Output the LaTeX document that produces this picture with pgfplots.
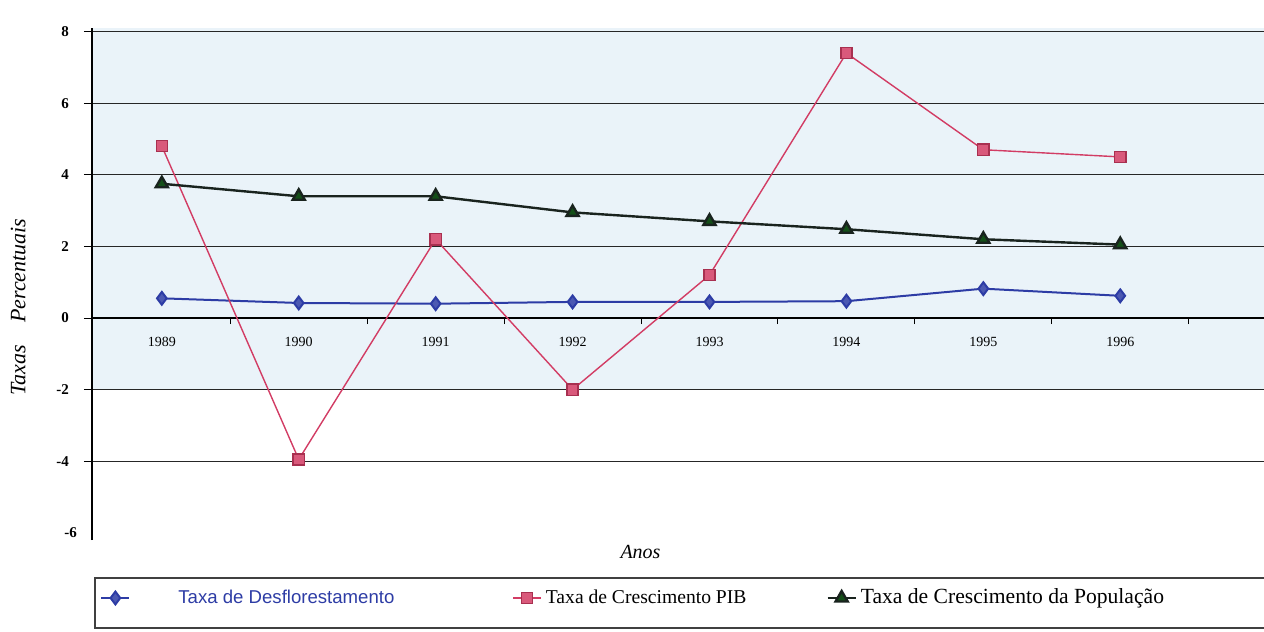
\documentclass[border=0pt]{standalone}
\usepackage{fontspec}
\setmainfont{Liberation Serif}
\newfontfamily\arial{Liberation Sans}
\usepackage{pgfplots}
\pgfplotsset{compat=1.18}
\definecolor{defblue}{RGB}{45,60,165}
\definecolor{pibred}{RGB}{210,60,100}
\definecolor{popblack}{RGB}{25,35,30}
\definecolor{bgblue}{RGB}{234,243,249}
\begin{document}
\begin{tikzpicture}
\useasboundingbox (-46pt,-46pt) rectangle (586pt,270pt);
% light blue backdrop of the upper plot area (y from -2 to the top)
\fill[bgblue] (0pt,75.2pt) rectangle (586pt,256pt);
\begin{axis}[
  scale only axis, width=586pt, height=256pt,
  xmin=-0.51, xmax=8.05, ymin=-6.2, ymax=8.1,
  axis x line*=middle, axis y line*=left,
  axis line style={black, line width=0.6pt},
  xtick={0,1,2,3,4,5,6,7},
  xticklabels={1989,1990,1991,1992,1993,1994,1995,1996},
  major x tick style={draw=none},
  minor xtick={0.5,1.5,2.5,3.5,4.5,5.5,6.5,7.5},
  minor x tick style={black, line width=0.5pt},
  minor tick length=3pt,
  ytick={-4,-2,0,2,4,6,8},
  yticklabels={-4,-2,0,2,4,6,8},
  extra y ticks={-6},
  extra y tick labels={-6},
  extra y tick style={grid=none, major tick length=0pt},
  major y tick style={black, line width=0.5pt},
  major tick length=4pt,
  tick align=outside,
  ymajorgrids,
  major grid style={black!85, line width=0.5pt},
  xticklabel style={font=\fontsize{7}{8}\selectfont, yshift=-2pt},
  yticklabel style={font=\bfseries\fontsize{7.5}{8}\selectfont, xshift=-4pt},
  xlabel={\itshape Anos},
  xlabel style={at={(axis description cs:0.468,0)}, anchor=center, yshift=-6pt, font=\fontsize{10}{11}\selectfont},
  ylabel={\itshape Taxas\quad Percentuais},
  ylabel style={at={(axis description cs:-0.063,0.455)}, anchor=center, font=\fontsize{11}{12}\selectfont},
  legend columns=3,
  legend style={draw=none, fill=none, at={(0,0)}, anchor=west, xshift=4pt, yshift=-29pt,
    inner sep=0pt,
    /tikz/column 2/.style={column sep=57pt},
    /tikz/column 4/.style={column sep=38pt}},
  legend cell align=left,
  legend image code/.code={\draw[mark repeat=2,mark phase=2,#1] plot coordinates {(0pt,0pt) (7pt,0pt) (14pt,0pt)};},
]
\addplot[defblue, line width=1pt, mark=diamond*, mark size=3.2pt, mark options={fill=defblue!85!white}]
  coordinates {(0,0.55) (1,0.42) (2,0.40) (3,0.45) (4,0.45) (5,0.47) (6,0.82) (7,0.62)};
\addlegendentry{\hspace*{22pt}\arial\color{defblue}\fontsize{9.3}{10}\selectfont Taxa de Desflorestamento}
\addplot[pibred, line width=0.7pt, mark=square*, mark size=2.8pt, mark options={fill=pibred!85!white, draw=pibred!80!black}]
  coordinates {(0,4.8) (1,-3.95) (2,2.2) (3,-2.0) (4,1.2) (5,7.4) (6,4.7) (7,4.5)};
\addlegendentry{\fontsize{9.8}{10}\selectfont Taxa de Crescimento PIB}
\addplot[popblack, line width=1.2pt, mark=triangle*, mark size=3.5pt, mark options={fill=popblack!80!green}]
  coordinates {(0,3.75) (1,3.4) (2,3.4) (3,2.95) (4,2.7) (5,2.48) (6,2.2) (7,2.05)};
\addlegendentry{\fontsize{10.8}{11}\selectfont Taxa de Crescimento da População}
\end{axis}
\draw[black!75, line width=0.6pt] (586pt,-19pt) -- (1.5pt,-19pt) -- (1.5pt,-44pt) -- (586pt,-44pt);
\end{tikzpicture}
\end{document}
